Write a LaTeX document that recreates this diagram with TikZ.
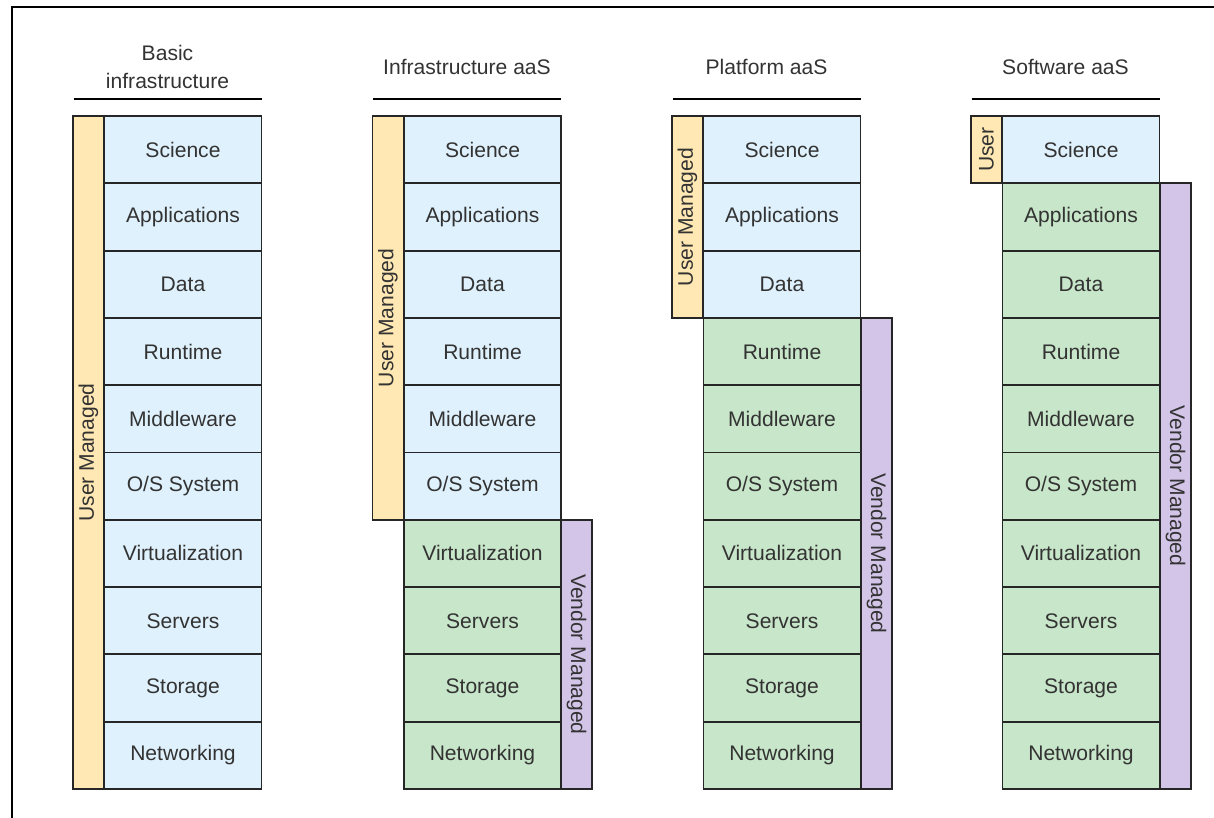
\documentclass[tikz,border=0pt]{standalone}
\usepackage{fontspec}
\setmainfont{Liberation Sans}
\usepackage{xcolor}
\usetikzlibrary{positioning}

\definecolor{userblue}{HTML}{DFF1FC}
\definecolor{vendgreen}{HTML}{C8E6C9}
\definecolor{useryellow}{HTML}{FFE8B3}
\definecolor{vendpurple}{HTML}{D3C5E8}
\definecolor{txtgray}{HTML}{333333}

\tikzset{
  layer/.style={draw=black!85,line width=1.1pt,minimum width=3.14cm,minimum height=1.346cm,
    inner sep=0pt,text=txtgray,font=\fontsize{12}{16}\selectfont},
  userbar/.style={draw=black!85,line width=1.1pt,fill=useryellow,rotate=90,minimum height=0.62cm,
    inner sep=0pt,text=txtgray,font=\fontsize{12}{16}\selectfont},
  vendbar/.style={draw=black!85,line width=1.1pt,fill=vendpurple,rotate=-90,minimum height=0.62cm,
    inner sep=0pt,text=txtgray,font=\fontsize{12}{16}\selectfont},
  coltitle/.style={align=center,text=txtgray,font=\fontsize{12}{16}\selectfont}
}

\begin{document}
\begin{tikzpicture}[x=0.02cm,y=-0.02cm]
  \useasboundingbox (0,0) rectangle (1214,818);
  \draw[line width=1.7pt] (12,818) -- (12,7) -- (1214,7);

  % the four stacks, rows above \cut are user managed
  \foreach \col/\xc/\cut in {a/183/10,b/482.5/6,c/782/3,d/1081/1}{
    \foreach \lbl [count=\i from 0] in {Science,Applications,Data,Runtime,Middleware,
        O/S System,Virtualization,Servers,Storage,Networking}{
      \ifnum\i<\cut \def\lf{userblue}\else\def\lf{vendgreen}\fi
      \node[layer,fill=\lf] (\col\i) at (\xc,149.65+67.3*\i) {\lbl};
    }
    \draw[line width=1.1pt] (\xc-109.5,99) -- (\xc+78.5,99);
  }

  \node[coltitle] (ta) at (167.5,67) {Basic\\infrastructure};
  \node[coltitle] (tb) at (467,67) {Infrastructure aaS};
  \node[coltitle] (tc) at (766.5,67) {Platform aaS};
  \node[coltitle] (td) at (1065.5,67) {Software aaS};

  \node[userbar,minimum width=13.46cm] (ua) at (88.5,452.5) {User Managed};
  \node[userbar,minimum width=8.076cm] (ub) at (388,317.9) {User Managed};
  \node[userbar,minimum width=4.038cm] (uc) at (687.5,216.95) {User Managed};
  \node[userbar,minimum width=1.346cm] (ud) at (986.5,149.65) {User};

  \node[vendbar,minimum width=5.384cm] (vb) at (576.5,654.4) {Vendor Managed};
  \node[vendbar,minimum width=9.422cm] (vc) at (876.5,553.45) {Vendor Managed};
  \node[vendbar,minimum width=12.114cm] (vd) at (1175.5,486.15) {Vendor Managed};
\end{tikzpicture}
\end{document}
